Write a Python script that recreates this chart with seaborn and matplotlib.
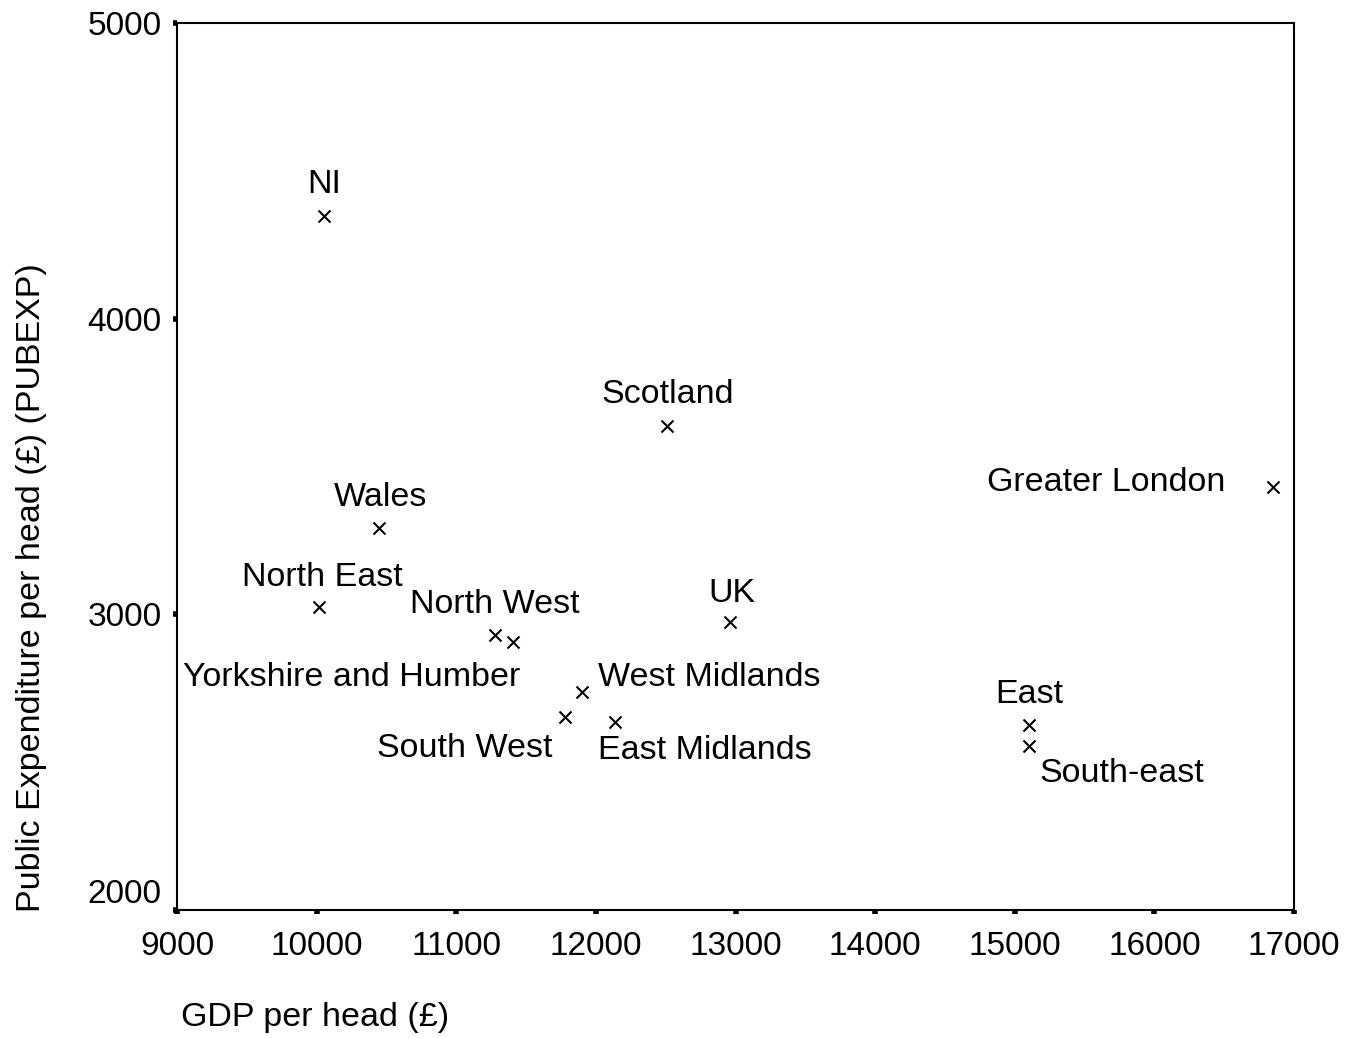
import matplotlib
matplotlib.use("Agg")
import matplotlib.pyplot as plt
import seaborn as sns
import pandas as pd

# values
regions = ["NI", "Scotland", "Greater London", "Wales", "North East", "North West",
           "Yorkshire and Humber", "West Midlands", "South West", "East Midlands",
           "UK", "East", "South-east"]
gdp = [10055, 12509, 16852, 10447, 10019, 11277,
       11404, 11903, 11779, 12137,
       12960, 15102, 15102]
pubexp = [4347, 3637, 3432, 3292, 3026, 2930,
          2908, 2737, 2654, 2635,
          2975, 2626, 2553]

x_ticks = [9000, 10000, 11000, 12000, 13000, 14000, 15000, 16000, 17000]
y_ticks = [2000, 3000, 4000, 5000]

# label placement: (dx px, dy px, horizontal alignment)
label_pos = {
    "NI": (0, 23, "center"),
    "Scotland": (1, 23, "center"),
    "Greater London": (-48, -4, "right"),
    "Wales": (1, 22, "center"),
    "North East": (3, 21, "center"),
    "North West": (0, 22, "center"),
    "Yorkshire and Humber": (8, -44, "right"),
    "West Midlands": (16, 6, "left"),
    "South West": (-13, -40, "right"),
    "East Midlands": (-17, -37, "left"),
    "UK": (2, 20, "center"),
    "East": (0, 22, "center"),
    "South-east": (10, -36, "left"),
}

df = pd.DataFrame({"region": regions, "gdp": gdp, "pubexp": pubexp})

sns.set_style("ticks")
plt.rcParams["font.family"] = ["Liberation Sans", "DejaVu Sans"]
plt.rcParams["text.color"] = "black"
plt.rcParams["axes.labelcolor"] = "black"
plt.rcParams["xtick.color"] = "black"
plt.rcParams["ytick.color"] = "black"

fig = plt.figure(figsize=(13.52, 10.38), dpi=100)
ax = fig.add_axes([177 / 1352, 1 - 910 / 1038, 1117 / 1352, 887 / 1038])

sns.scatterplot(data=df, x="gdp", y="pubexp", marker="x", color="black",
                s=75, linewidth=1.5, ax=ax, zorder=3)

for name, xv, yv in zip(df["region"], df["gdp"], df["pubexp"]):
    dx, dy, ha = label_pos[name]
    ax.annotate(name, (xv, yv), xytext=(dx, dy), textcoords="offset pixels",
                ha=ha, va="baseline", fontsize=24.5, color="black")

ax.set_xlim(9000, 17000)
ax.set_ylim(2000, 5000)
ax.set_xticks(x_ticks)
ax.set_yticks(y_ticks)
ax.tick_params(axis="both", direction="out", length=3, width=4, color="black",
               labelcolor="black", labelsize=24)
ax.tick_params(axis="x", pad=12)
ax.tick_params(axis="y", pad=8)
for sp in ax.spines.values():
    sp.set_visible(True)
    sp.set_linewidth(1.5)
    sp.set_color("black")
ax.get_yticklabels()[0].set_va("bottom")

ax.set_xlabel("GDP per head (£)", fontsize=24.5, loc="left")
ax.xaxis.set_label_coords(0.004, -0.104)
ax.set_ylabel("Public Expenditure per head (£) (PUBEXP)", fontsize=24.5, loc="bottom")
ax.yaxis.set_label_coords(-0.116, -0.002)

fig.savefig("out.png", dpi=100)
